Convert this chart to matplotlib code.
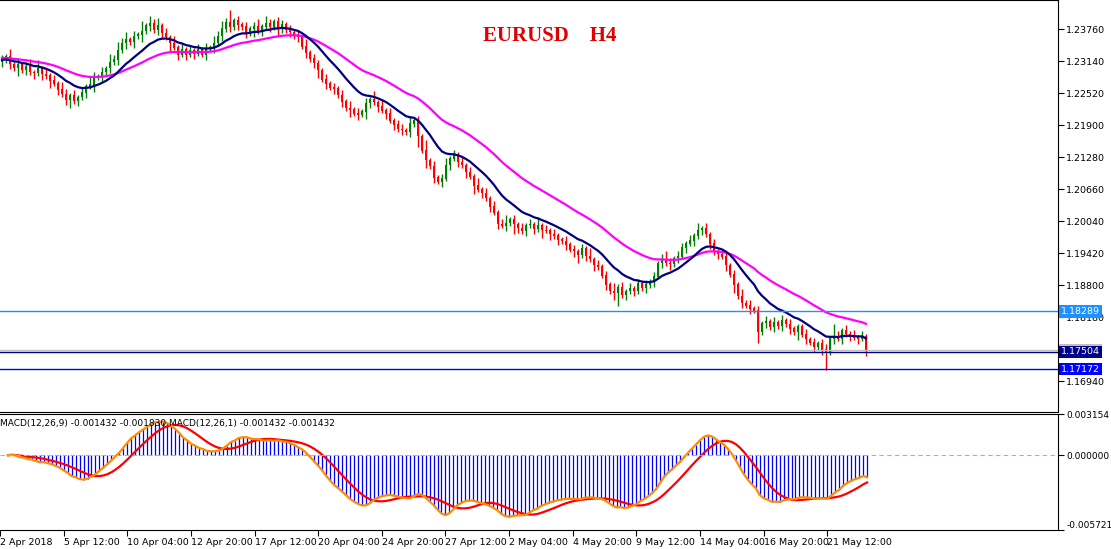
import matplotlib.pyplot as plt
import numpy as np
import pandas as pd

# H4 closes, 2 Apr 2018 -> 22 May 2018
closes = [
    1.2316, 1.2322, 1.2308, 1.2300, 1.2307, 1.2296, 1.2303, 1.2292, 1.2290, 1.2300,
    1.2288, 1.2285, 1.2276, 1.2270, 1.2258, 1.2250, 1.2238, 1.2247, 1.2236, 1.2244,
    1.2252, 1.2264, 1.2268, 1.2282, 1.2284, 1.2292, 1.2300, 1.2312, 1.2316, 1.2335,
    1.2348, 1.2355, 1.2350, 1.2362, 1.2365, 1.2372, 1.2382, 1.2386, 1.2374, 1.2382,
    1.2368, 1.2360, 1.2348, 1.2340, 1.2326, 1.2336, 1.2326, 1.2334, 1.2328, 1.2336,
    1.2326, 1.2338, 1.2340, 1.2348, 1.2362, 1.2376, 1.2388, 1.2380, 1.2392, 1.2384,
    1.2380, 1.2368, 1.2376, 1.2380, 1.2372, 1.2380, 1.2386, 1.2380, 1.2390, 1.2378,
    1.2384, 1.2374, 1.2370, 1.2362, 1.2360, 1.2342, 1.2330, 1.2318, 1.2310, 1.2296,
    1.2278, 1.2270, 1.2262, 1.2260, 1.2248, 1.2235, 1.2222, 1.2220, 1.2212, 1.2210,
    1.2216, 1.2232, 1.2240, 1.2234, 1.2225, 1.2218, 1.2212, 1.2198, 1.2190, 1.2182,
    1.2180, 1.2176, 1.2192, 1.2198, 1.2168, 1.2140, 1.2122, 1.2110, 1.2088, 1.2080,
    1.2086, 1.2112, 1.2125, 1.2132, 1.2118, 1.2112, 1.2098, 1.2090, 1.2072, 1.2065,
    1.2058, 1.2048, 1.2032, 1.2020, 1.1998, 1.1995, 1.2000, 1.2006, 1.1998, 1.1990,
    1.1984, 1.1996, 1.1998, 1.1988, 1.1996, 1.1986, 1.1985, 1.1978, 1.1975, 1.1968,
    1.1965, 1.1958, 1.1948, 1.1945, 1.1938, 1.1950, 1.1936, 1.1930, 1.1918, 1.1915,
    1.1898, 1.1880, 1.1868, 1.1865, 1.1876, 1.1860, 1.1868, 1.1874, 1.1868, 1.1882,
    1.1874, 1.1880, 1.1886, 1.1896, 1.1922, 1.1930, 1.1922, 1.1920, 1.1932, 1.1935,
    1.1952, 1.1960, 1.1966, 1.1975, 1.1986, 1.1990, 1.1978, 1.1960, 1.1944, 1.1940,
    1.1935, 1.1918, 1.1900, 1.1880, 1.1858, 1.1845, 1.1840, 1.1834, 1.1830, 1.1788,
    1.1806, 1.1810, 1.1798, 1.1808, 1.1800, 1.1812, 1.1804, 1.1795, 1.1788, 1.1800,
    1.1784, 1.1775, 1.1768, 1.1760, 1.1766, 1.1755, 1.1750, 1.1776, 1.1780, 1.1776,
    1.1792, 1.1785, 1.1782, 1.1778, 1.1776, 1.1781, 1.1753,
]
first_open = 1.2312
# wick lengths, one digit per bar, in units of 5 pips
upper_wicks = ("2131212313" "1212132121" "2132121323" "2312141323" "1213121212"
               "1213232512" "1212313212" "2121213121" "1212121312" "1213131212"
               "2131214121" "2312121213" "1212123121" "2121312121" "1212121312"
               "1213121212" "1212123212" "2121312121" "1212131212" "1212121211"
               "1212122152" "1212121")
lower_wicks = ("2121312121" "2131212312" "1213121212" "1212131212" "2131212121"
               "1212121212" "1213121213" "2121212123" "1212121312" "1321212121"
               "2121413121" "2121212131" "2121212142" "1212131212" "1212312121"
               "1213512121" "1212121212" "1212121212" "1213121214" "1212121213"
               "1212127121" "2121212")

tick_bars = [-2, 14, 30, 46, 62, 78, 94, 110, 126, 142, 158, 174, 190, 206]
tick_labels = ["2 Apr 2018", "5 Apr 12:00", "10 Apr 04:00", "12 Apr 20:00",
               "17 Apr 12:00", "20 Apr 04:00", "24 Apr 20:00", "27 Apr 12:00",
               "2 May 04:00", "4 May 20:00", "9 May 12:00", "14 May 04:00",
               "16 May 20:00", "21 May 12:00"]
price_ticks = [1.23760, 1.23140, 1.22520, 1.21900, 1.21280, 1.20660, 1.20040,
               1.19420, 1.18800, 1.18180, 1.16940]
levels = [1.18289, 1.17534, 1.17504, 1.17172]
level_colors = ["#1e90ff", "#c0c0c0", "#00008b", "#0000ff"]

c = np.array(closes)
o = np.concatenate([[first_open], c[:-1]])
up = np.array([int(d) for d in upper_wicks[:len(c)]]) * 0.0005
dn = np.array([int(d) for d in lower_wicks[:len(c)]]) * 0.0005
hi = np.maximum(o, c) + up
lo = np.minimum(o, c) - dn
x = np.arange(len(c))

s = pd.Series(c)
ma_fast = s.ewm(span=13, adjust=False).mean()
ma_slow = pd.concat([pd.Series([1.2320] * 20), s]).ewm(span=34, adjust=False).mean().iloc[20:]
macd = s.ewm(span=12, adjust=False).mean() - s.ewm(span=26, adjust=False).mean()
signal = macd.rolling(9, min_periods=1).mean()

fig = plt.figure(figsize=(11.11, 5.49), dpi=100)
ax = fig.add_axes([0, 1 - 412 / 549, 1058 / 1111, 412 / 549])
ax2 = fig.add_axes([0, 1 - 530 / 549, 1058 / 1111, 116 / 549])

col = np.where(c >= o, "#008000", "#ff0000")
ax.vlines(x, lo, hi, colors=col, lw=1)
ax.bar(x, np.abs(c - o) + 0.0001, bottom=np.minimum(o, c), width=0.7, color=col)
ax.plot(x, ma_slow.values, color="#ff00ff", lw=1.6)
ax.plot(x, ma_fast.values, color="#000080", lw=1.6)
for lv, lc in zip(levels, level_colors):
    ax.axhline(lv, color=lc, lw=1)

xmin, xmax = -0.5, 1058 / 4 - 0.5
ax.set_xlim(xmin, xmax)
ax.set_ylim(1.24322 - 412 * 0.00019375, 1.24322)
ax.yaxis.tick_right()
ax.set_yticks(price_ticks)
ax.set_yticklabels([f"{p:.5f}" for p in price_ticks], fontsize=6.8)
ax.set_xticks([])
ax.tick_params(axis="y", length=4, pad=2)
for lv, lc in zip(levels, level_colors):
    ax.text(1.003, lv, f"{lv:.5f}", transform=ax.get_yaxis_transform(), fontsize=6.8,
            color="white", va="center", ha="left",
            bbox=dict(boxstyle="square,pad=0.2", fc=lc, ec="none"))
ax.text(0.52, 0.9, "EURUSD    H4", transform=ax.transAxes, fontsize=15,
        color="#e00000", fontweight="bold", family="Liberation Serif", ha="center")

ax2.vlines(x, 0, macd.values, colors="#0000ff", lw=0.9)
ax2.plot(x, signal.values, color="#ff0000", lw=1.6)
ax2.plot(x, macd.values, color="#ff8c00", lw=1.6)
ax2.axhline(0, color="#b0b0b0", lw=0.8, ls=(0, (4, 3)))
ax2.set_xlim(xmin, xmax)
ax2.set_ylim(-0.005721, 0.003154)
ax2.yaxis.tick_right()
ax2.set_yticks([0.003154, 0.0, -0.005721])
ax2.set_yticklabels(["0.003154", "0.000000", "-0.005721"], fontsize=6.5)
ax2.get_yticklabels()[-1].set_va("bottom")
ax2.set_xticks(tick_bars)
ax2.set_xticklabels(tick_labels, fontsize=6.8, ha="left")
ax2.tick_params(axis="x", length=4, pad=2)
ax2.tick_params(axis="y", length=4, pad=2)
ax2.text(0.0, 0.96, "MACD(12,26,9) -0.001432 -0.001830 MACD(12,26,1) -0.001432 -0.001432",
         transform=ax2.transAxes, fontsize=6.5, va="top")
for a in (ax, ax2):
    a.spines["left"].set_visible(False)

fig.savefig("out.png", dpi=100)
